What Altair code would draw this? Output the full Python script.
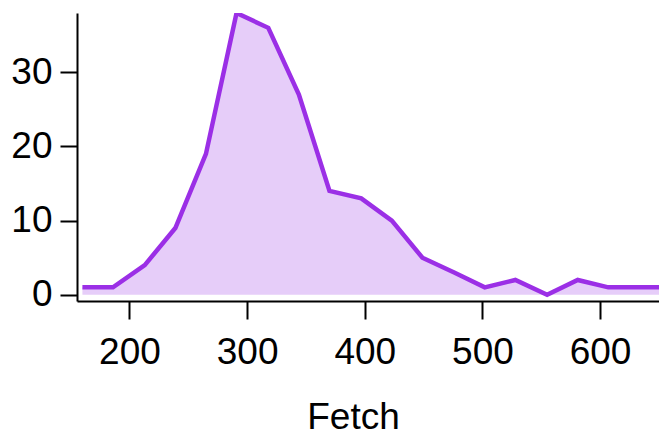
import altair as alt
import pandas as pd

fetch = [160, 186, 213, 239, 265, 291, 318, 344, 370, 397, 423, 449, 476, 502, 528, 555, 581, 607, 634, 660]
count = [1, 1, 4, 9, 19, 38, 36, 27, 14, 13, 10, 5, 3, 1, 2, 0, 2, 1, 1, 1]
x_ticks = [200, 300, 400, 500, 600]
y_ticks = [0, 10, 20, 30]

df = pd.DataFrame({"Fetch": fetch, "Count": count})

FONT = "Liberation Sans"

chart = alt.Chart(df).mark_area(
    clip=True,
    color="#E6CDF9",
    opacity=1,
    line={"color": "#9B2FE6", "strokeWidth": 4.5, "strokeJoin": "miter"},
).encode(
    x=alt.X("Fetch:Q",
            scale=alt.Scale(domain=[155.4, 650.1], nice=False, zero=False),
            axis=alt.Axis(values=x_ticks, title="Fetch", grid=False,
                          tickSize=18, labelPadding=44, labelBaseline="alphabetic",
                          titleX=276, titleY=127, titleBaseline="alphabetic",
                          titleAlign="center", labelFlush=False)),
    y=alt.Y("Count:Q",
            scale=alt.Scale(domain=[-0.84, 38.0], nice=False, zero=False),
            axis=alt.Axis(values=y_ticks, title=None, grid=False,
                          tickSize=17, labelPadding=8, labelFlush=False)),
).properties(
    width=582,
    height=288,
    autosize=alt.AutoSizeParams(type="none"),
    padding={"left": 77, "top": 13, "right": 0, "bottom": 135},
).configure_view(
    stroke=None
).configure_axis(
    domainColor="black",
    domainWidth=2,
    tickColor="black",
    tickWidth=2,
    labelFont=FONT,
    labelFontSize=37,
    labelColor="black",
    titleFont=FONT,
    titleFontSize=37,
    titleFontWeight="normal",
    titleColor="black",
)

chart.save("out.html", embed_options={"renderer": "svg", "actions": False})
